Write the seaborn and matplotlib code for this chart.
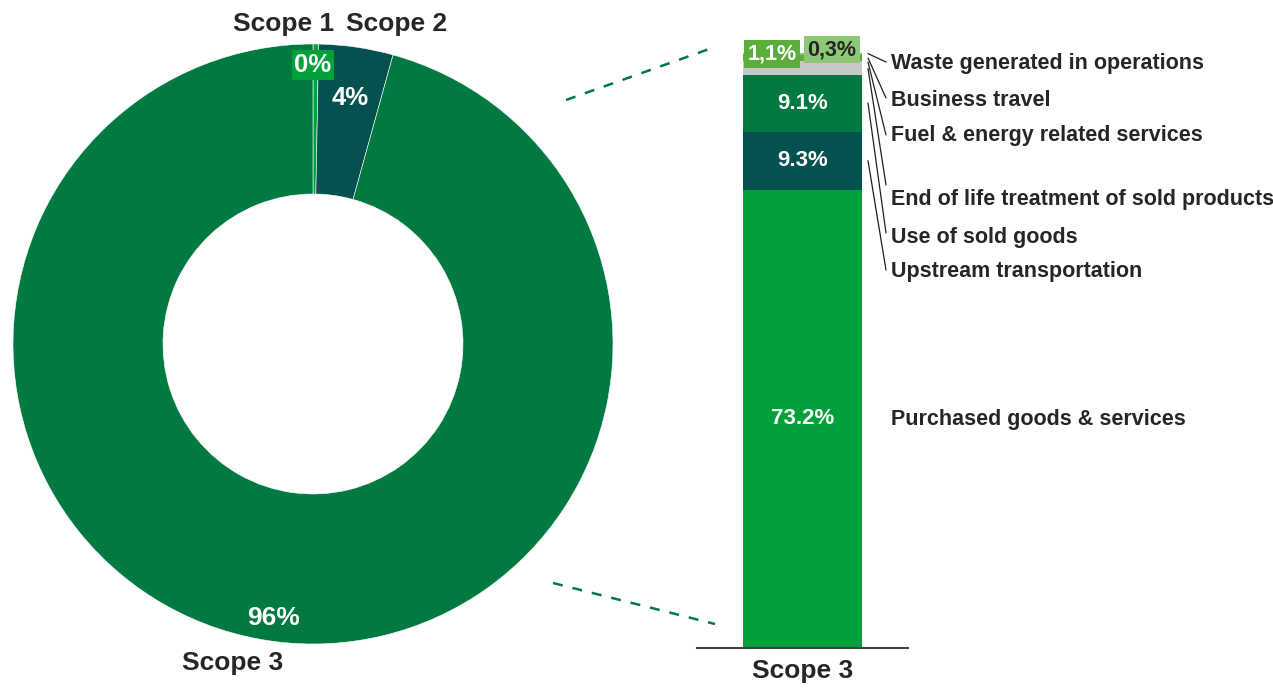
import matplotlib
matplotlib.use("Agg")
import matplotlib.pyplot as plt
from matplotlib.lines import Line2D
import seaborn as sns
import numpy as np
import pandas as pd

# --- data -----------------------------------------------------------------
scope_names = ["Scope 1", "Scope 2", "Scope 3"]
scope_values = [0.3, 4.0, 95.7]
scope_labels = ["0%", "4%", "96%"]

# Scope 3 breakdown, bottom to top of the stacked bar
cat_names = [
    "Purchased goods & services",
    "Upstream transportation",
    "Use of sold goods",
    "End of life treatment of sold products",
    "Fuel & energy related services",
    "Business travel",
    "Waste generated in operations",
]
cat_values = [73.2, 9.3, 9.1, 1.9, 0.2, 1.1, 0.3]
cat_labels = ["73.2%", "9.3%", "9.1%", "", "", "1,1%", "0,3%"]

# --- style ----------------------------------------------------------------
DARK = "#007A40"
TEAL = "#04524F"
BRIGHT = "#00A03A"
GRAY = "#C8C8C8"
MID = "#5BAD3C"
LIGHT = "#8DC878"
TXT = "#262626"

scope_colors = [BRIGHT, TEAL, DARK]
cat_colors = [BRIGHT, TEAL, DARK, GRAY, GRAY, MID, LIGHT]

sns.set_style("white")
plt.rcParams["font.family"] = ["Liberation Sans", "DejaVu Sans"]
plt.rcParams["font.weight"] = "bold"

W, H = 1273, 688
fig = plt.figure(figsize=(W / 100, H / 100), dpi=100)


def fig_box(x0, y0, x1, y1):
    """pixel box (top-left origin) -> figure fraction rect"""
    return [x0 / W, (H - y1) / H, (x1 - x0) / W, (y1 - y0) / H]


# --- donut ------------------------------------------------------------------
ax_pie = fig.add_axes(fig_box(13, 44, 613, 644))
ax_pie.pie(
    scope_values,
    colors=scope_colors,
    startangle=90,
    counterclock=False,
    radius=1.0,
    wedgeprops=dict(width=0.5, edgecolor="white", linewidth=0.4),
)
ax_pie.set_xlim(-1, 1)
ax_pie.set_ylim(-1, 1)
ax_pie.set_aspect("auto")
ax_pie.axis("off")

ax_pie.text(0, 0.930, scope_labels[0], ha="center", va="center", color="white",
            fontsize=18.5, fontweight="bold",
            bbox=dict(boxstyle="square,pad=0.1", fc=BRIGHT, ec="none"))
ax_pie.text(0.123, 0.820, scope_labels[1], ha="center", va="center", color="white",
            fontsize=18.5, fontweight="bold")
ax_pie.text(-0.133, -0.913, scope_labels[2], ha="center", va="center", color="white",
            fontsize=19, fontweight="bold")
ax_pie.text(-0.097, 1.067, scope_names[0], ha="center", va="center", color=TXT,
            fontsize=19, fontweight="bold")
ax_pie.text(0.277, 1.067, scope_names[1], ha="center", va="center", color=TXT,
            fontsize=19, fontweight="bold")
ax_pie.text(-0.267, -1.063, scope_names[2], ha="center", va="center", color=TXT,
            fontsize=19, fontweight="bold")

# --- stacked bar (overlaid cumulative bars) --------------------------------
PX_PER_PCT = 6.26
ax_bar = fig.add_axes(fig_box(697, 648 - 100 * PX_PER_PCT, 908, 648))
cum = np.cumsum(cat_values)
for i in range(len(cat_values) - 1, -1, -1):
    sns.barplot(x=["Scope 3"], y=[cum[i]], color=cat_colors[i], width=0.56,
                saturation=1, ax=ax_bar, linewidth=0)
ax_bar.set_xlim(-0.5, 0.5)
ax_bar.set_ylim(0, 100)
ax_bar.set_yticks([])
ax_bar.set_xlabel("")
ax_bar.set_ylabel("")
for s in ["top", "left", "right"]:
    ax_bar.spines[s].set_visible(False)
ax_bar.spines["bottom"].set_color("#404040")
ax_bar.spines["bottom"].set_linewidth(1.5)
ax_bar.tick_params(axis="x", length=0, pad=8, labelsize=19, labelcolor=TXT)
for t in ax_bar.get_xticklabels():
    t.set_fontweight("bold")

bottoms = cum - np.array(cat_values)
mids = bottoms + np.array(cat_values) / 2

# labels inside the big segments
for i in range(3):
    ax_bar.text(0, mids[i], cat_labels[i], ha="center", va="center", color="white",
                fontsize=16, fontweight="bold")

# boxed labels for the tiny top segments
ax_bar.text(-0.145, 94.9, cat_labels[5], ha="center", va="center", color="white",
            fontsize=15.5, fontweight="bold",
            bbox=dict(boxstyle="square,pad=0.15", fc=MID, ec="none"))
ax_bar.text(0.140, 95.6, cat_labels[6], ha="center", va="center", color=TXT,
            fontsize=15.5, fontweight="bold",
            bbox=dict(boxstyle="square,pad=0.15", fc=LIGHT, ec="none"))

# category names with leader lines
label_y_px = {
    "Waste generated in operations": 64,
    "Business travel": 100,
    "Fuel & energy related services": 136,
    "End of life treatment of sold products": 199,
    "Use of sold goods": 237,
    "Upstream transportation": 272,
}
line_end_px = {
    "Waste generated in operations": 62,
    "Business travel": 98,
    "Fuel & energy related services": 135,
    "End of life treatment of sold products": 185,
    "Use of sold goods": 233,
    "Upstream transportation": 270,
}
to_y = lambda py: (648 - py) / PX_PER_PCT
x_text = -0.5 + (891 - 697) / 211
x_start = -0.5 + (868 - 697) / 211
x_end = -0.5 + (886 - 697) / 211
for i, name in enumerate(cat_names):
    if name in label_y_px:
        ax_bar.text(x_text, to_y(label_y_px[name]), name, ha="left", va="center",
                    color=TXT, fontsize=15.5, fontweight="bold", clip_on=False)
        ax_bar.add_line(Line2D([x_start, x_end], [mids[i], to_y(line_end_px[name])],
                               color="#202020", lw=0.9, clip_on=False))
    else:
        ax_bar.text(x_text, to_y(420), name, ha="left", va="center",
                    color=TXT, fontsize=15.5, fontweight="bold", clip_on=False)

# dashed connectors from donut to bar
for (x0, y0, x1, y1) in [(566, 100, 712, 48), (553, 583, 715, 624)]:
    fig.add_artist(Line2D([x0 / W, x1 / W], [(H - y0) / H, (H - y1) / H],
                          transform=fig.transFigure, color=DARK, lw=1.8,
                          linestyle=(0, (4, 4))))

fig.savefig("out.png", dpi=100, facecolor="white")
